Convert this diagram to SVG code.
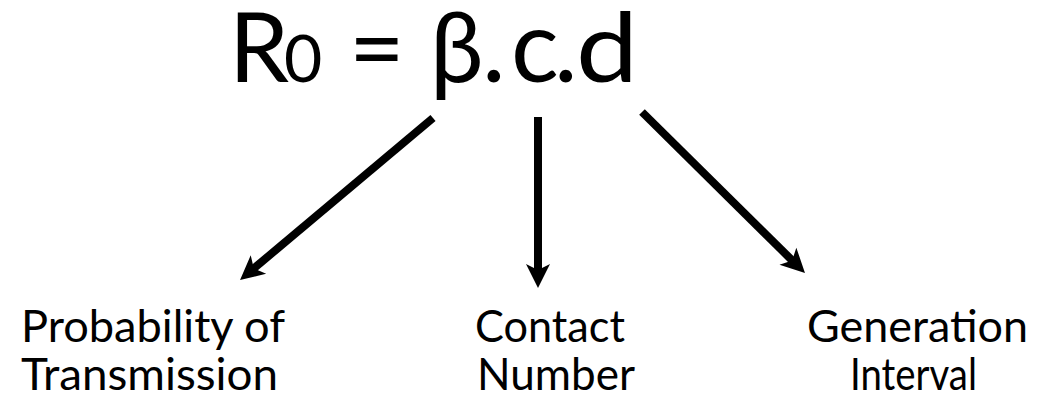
<svg xmlns="http://www.w3.org/2000/svg" width="1040" height="401" viewBox="0 0 1040 401">
  <style>
    .title { font-family: Lato, "Open Sans", "DejaVu Sans", sans-serif; font-size: 96px; fill: #000; }
    .label { font-family: Lato, "Open Sans", "DejaVu Sans", sans-serif; font-size: 45px; fill: #000; }
    .conn { stroke: #000; stroke-width: 8; fill: none; }
  </style>
  <defs>
    <marker id="head" markerUnits="userSpaceOnUse" markerWidth="26" markerHeight="26" viewBox="0 0 26 26" refX="10" refY="13" orient="auto">
      <path d="M26,13 L2,1 L8,13 L2,25 Z" fill="#000"/>
    </marker>
  </defs>
  <rect width="1040" height="401" fill="#fff"/>

  <g id="formula">
    <text class="title" y="82"><tspan x="229">R</tspan><tspan x="284" font-size="66">0</tspan><tspan x="349">=</tspan><tspan x="430">β</tspan><tspan x="482" font-size="100">.</tspan><tspan x="511" font-size="100">c</tspan><tspan x="554" font-size="100">.</tspan></text>
    <text class="title" x="576" y="82" font-size="102" textLength="62" lengthAdjust="spacingAndGlyphs">d</text>
  </g>

  <g id="connectors">
    <line class="conn" x1="433" y1="118" x2="252.3" y2="269.7" marker-end="url(#head)"/>
    <line class="conn" x1="538" y1="117" x2="538" y2="272" marker-end="url(#head)"/>
    <line class="conn" x1="642" y1="112" x2="793.6" y2="261.8" marker-end="url(#head)"/>
  </g>

  <g id="node-probability">
    <text class="label" x="21" y="342" textLength="264" lengthAdjust="spacingAndGlyphs">Probability of</text>
    <text class="label" x="21" y="390" textLength="257" lengthAdjust="spacingAndGlyphs">Transmission</text>
  </g>
  <g id="node-contact">
    <text class="label" x="475" y="342" textLength="150" lengthAdjust="spacingAndGlyphs">Contact</text>
    <text class="label" x="477" y="390" textLength="158" lengthAdjust="spacingAndGlyphs">Number</text>
  </g>
  <g id="node-generation">
    <text class="label" x="807" y="342" textLength="221" lengthAdjust="spacingAndGlyphs">Generation</text>
    <text class="label" x="850" y="390" textLength="127" lengthAdjust="spacingAndGlyphs">Interval</text>
  </g>
</svg>
